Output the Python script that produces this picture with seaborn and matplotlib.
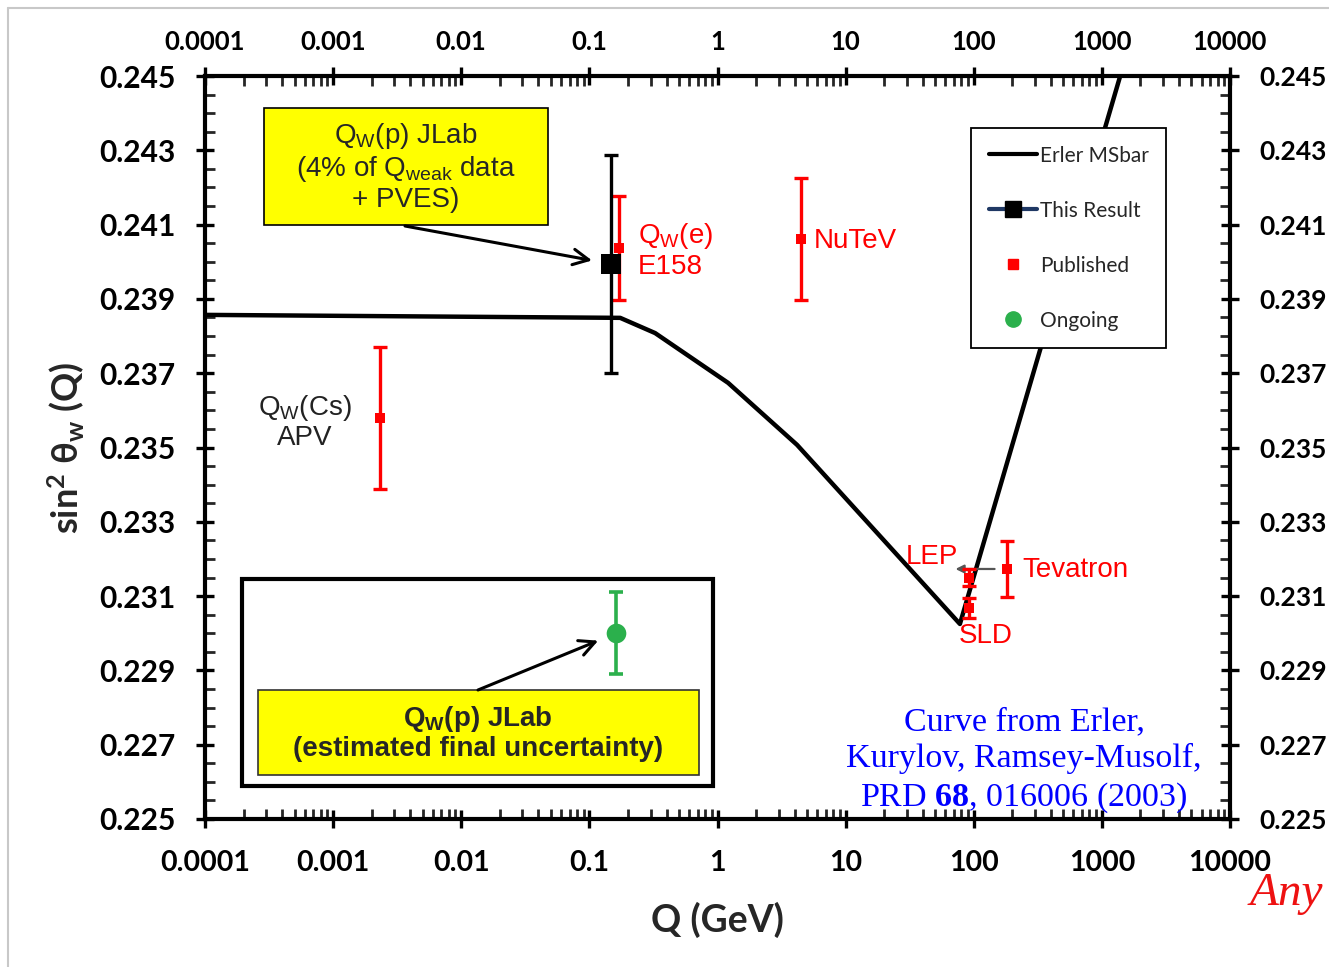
import numpy as np
import pandas as pd
import matplotlib
matplotlib.use("Agg")
import matplotlib.pyplot as plt
import matplotlib.transforms as mtransforms
import seaborn as sns
from matplotlib.ticker import FixedLocator, FixedFormatter, LogLocator, MultipleLocator, NullFormatter
from matplotlib.lines import Line2D
from matplotlib.patches import Rectangle

# ---------------- data ----------------
curve_q = [1e-4, 0.174, 0.326, 1.21, 4.18, 78.0, 1390.0]
curve_s2w = [0.23857, 0.23849, 0.23808, 0.23674, 0.23507, 0.23025, 0.2450]

this_q = [0.148]
this_s2w = [0.23994]
this_err = [0.00293]

pub_names = ["APV", "E158", "NuTeV", "LEP", "SLD", "Tevatron"]
pub_q = [0.00232, 0.171, 4.49, 91.0, 91.0, 182.0]
pub_s2w = [0.23579, 0.24037, 0.24061, 0.23150, 0.23068, 0.23173]
pub_err = [0.00191, 0.00141, 0.00164, 0.00022, 0.00026, 0.00075]

ong_q = [0.162]
ong_s2w = [0.2300]
ong_err = [0.0011]

x_ticks = [1e-4, 1e-3, 1e-2, 1e-1, 1, 10, 100, 1000, 10000]
x_tick_labels = ["0.0001", "0.001", "0.01", "0.1", "1", "10", "100", "1000", "10000"]
y_ticks = [0.225, 0.227, 0.229, 0.231, 0.233, 0.235, 0.237, 0.239, 0.241, 0.243, 0.245]
y_tick_labels = ["0.225", "0.227", "0.229", "0.231", "0.233", "0.235", "0.237", "0.239", "0.241", "0.243", "0.245"]

legend_labels = ["Erler MSbar", "This Result", "Published", "Ongoing"]

# ---------------- style ----------------
sns.set_style("white")
plt.rcParams["font.family"] = ["Liberation Sans", "DejaVu Sans"]
plt.rcParams["mathtext.fontset"] = "custom"
plt.rcParams["mathtext.rm"] = "Liberation Serif"
plt.rcParams["mathtext.bf"] = "Liberation Serif:bold"

W, H = 1329, 967
fig = plt.figure(figsize=(W / 100, H / 100), dpi=100)
fig.patch.set_facecolor("white")


def fp(x, y):
    return (x / W, 1 - y / H)


ax = fig.add_axes([205 / W, 1 - 819 / H, 1025 / W, 743 / H])
ax.set_facecolor("white")

RED = "#ff0000"
GREEN = "#2bb04c"

curve_df = pd.DataFrame({"Q": curve_q, "s2w": curve_s2w})
sns.lineplot(data=curve_df, x="Q", y="s2w", sort=False, estimator=None,
             color="black", lw=3.2, ax=ax, zorder=3)

# published
ax.errorbar(pub_q, pub_s2w, yerr=pub_err, fmt="none", ecolor=RED,
            elinewidth=2.4, capsize=5, capthick=2.4, zorder=5)
sns.scatterplot(x=pub_q, y=pub_s2w, marker="s", color=RED, s=60,
                edgecolor=RED, linewidth=0, ax=ax, zorder=6)
# this result
ax.errorbar(this_q, this_s2w, yerr=this_err, fmt="none", ecolor="black",
            elinewidth=2.4, capsize=5, capthick=2.4, zorder=5)
sns.scatterplot(x=this_q, y=this_s2w, marker="s", color="black", s=200,
                edgecolor="black", linewidth=0, ax=ax, zorder=6)
# ongoing
ax.errorbar(ong_q, ong_s2w, yerr=ong_err, fmt="none", ecolor=GREEN,
            elinewidth=2.6, capsize=5, capthick=2.6, zorder=5)
sns.scatterplot(x=ong_q, y=ong_s2w, marker="o", color=GREEN, s=200,
                edgecolor=GREEN, linewidth=0, ax=ax, zorder=6)

ax.set_xscale("log")
ax.set_xlim(1e-4, 1e4)
ax.set_ylim(0.225, 0.245)

ax.xaxis.set_major_locator(FixedLocator(x_ticks))
ax.xaxis.set_major_formatter(FixedFormatter(x_tick_labels))
ax.xaxis.set_minor_locator(LogLocator(base=10, subs=np.arange(2, 10), numticks=100))
ax.xaxis.set_minor_formatter(NullFormatter())
ax.yaxis.set_major_locator(FixedLocator(y_ticks))
ax.yaxis.set_major_formatter(FixedFormatter(y_tick_labels))
ax.yaxis.set_minor_locator(MultipleLocator(0.0005))

for s in ax.spines.values():
    s.set_visible(True)
    s.set_linewidth(3)
    s.set_color("black")

ax.tick_params(which="major", direction="inout", length=13, width=2.4,
               top=True, right=True, labeltop=True, labelright=True,
               bottom=True, left=True, colors="black")
ax.tick_params(which="minor", direction="in", length=7, width=2,
               top=True, right=True, bottom=True, left=True)
ax.tick_params(axis="x", pad=16)
ax.tick_params(axis="y", pad=15)

TICKFONT = ["Lato", "DejaVu Sans"]
for t in ax.xaxis.get_major_ticks():
    t.label1.set_fontfamily(TICKFONT); t.label1.set_fontweight("bold"); t.label1.set_fontsize(20.5)
    t.label2.set_fontfamily(TICKFONT); t.label2.set_fontweight("bold"); t.label2.set_fontsize(18.5)
for t in ax.yaxis.get_major_ticks():
    t.label1.set_fontfamily(TICKFONT); t.label1.set_fontweight("bold"); t.label1.set_fontsize(21.5)
    t.label2.set_fontfamily(TICKFONT); t.label2.set_fontweight("bold"); t.label2.set_fontsize(19)

ax.set_xlabel("Q (GeV)", fontsize=27, fontweight="bold", family=TICKFONT)
ax.set_ylabel(r"sin$\mathregular{^2}$ θ$\mathregular{_w}$ (Q)", fontsize=26,
              fontweight="bold", family=TICKFONT)
ax.xaxis.set_label_coords(0.5, -0.111)
ax.yaxis.set_label_coords(-0.115, 0.5)

# ---------------- point labels ----------------
lab_kw = dict(textcoords="offset pixels", fontsize=20, va="center")
ax.annotate("Q$\\mathregular{_W}$(e)\nE158", xy=(pub_q[1], pub_s2w[1]), xytext=(19, -2),
            color=RED, ha="left", linespacing=1.15, **lab_kw)
ax.annotate("NuTeV", xy=(pub_q[2], pub_s2w[2]), xytext=(13, -2), color=RED, ha="left", **lab_kw)
ax.annotate("Q$\\mathregular{_W}$(Cs)\nAPV", xy=(pub_q[0], pub_s2w[0]), xytext=(-75, -4),
            color="#222222", ha="center", multialignment="center", linespacing=1.1, **lab_kw)
ax.annotate("LEP", xy=(pub_q[3], pub_s2w[3]), xytext=(-10, 21), color=RED, ha="right", **lab_kw)
ax.annotate("SLD", xy=(pub_q[4], pub_s2w[4]), xytext=(17, -28), color=RED, ha="center", **lab_kw)
ax.annotate("Tevatron", xy=(pub_q[5], pub_s2w[5]), xytext=(15, -1), color=RED, ha="left", **lab_kw)
# Tevatron -> LEP arrow
ax.annotate("", xy=(72, pub_s2w[5]), xytext=(pub_q[5], pub_s2w[5]),
            arrowprops=dict(arrowstyle="-|>", color="#555555", lw=1.6,
                            shrinkA=9, shrinkB=0, mutation_scale=12), zorder=4)

# ---------------- boxes ----------------
b1 = Rectangle(fp(264, 225), 284 / W, 117 / H, transform=fig.transFigure,
               fc="#ffff00", ec="black", lw=1.2, zorder=2, clip_on=False)
ax.add_patch(b1)
fig.text(*fp(406, 167), "Q$\\mathregular{_W}$(p) JLab\n(4% of Q$\\mathregular{_{weak}}$ data\n+ PVES)",
         ha="center", va="center", multialignment="center", fontsize=20, linespacing=1.15, zorder=7)
ax.annotate("", xy=(this_q[0], this_s2w[0]), xytext=fp(405, 226),
            textcoords="figure fraction",
            arrowprops=dict(arrowstyle="->", color="black", lw=2.2, shrinkA=0,
                            shrinkB=14, mutation_scale=28), zorder=7)

b2 = Rectangle(fp(242, 786), 471 / W, 207 / H, transform=fig.transFigure,
               fc="white", ec="black", lw=3, zorder=1.5, clip_on=False)
ax.add_patch(b2)
b3 = Rectangle(fp(258, 775), 441 / W, 85 / H, transform=fig.transFigure,
               fc="#ffff00", ec="#333333", lw=1.2, zorder=2, clip_on=False)
ax.add_patch(b3)
fig.text(*fp(478, 733), "Q$\\mathregular{_W}$(p) JLab\n(estimated final uncertainty)",
         ha="center", va="center", multialignment="center", fontsize=20,
         fontweight="bold", linespacing=1.12, zorder=7)
ax.annotate("", xy=(ong_q[0], ong_s2w[0]), xytext=fp(478, 690),
            textcoords="figure fraction",
            arrowprops=dict(arrowstyle="->", color="black", lw=2.2, shrinkA=0,
                            shrinkB=14, mutation_scale=28), zorder=7)

# ---------------- reference text ----------------
fig.text(*fp(1024, 761), "Curve from Erler,\nKurylov, Ramsey-Musolf,\nPRD $\\mathbf{68}$, 016006 (2003)",
         ha="center", va="center", multialignment="center", fontsize=24.5,
         color="#0000ff", family="Liberation Serif", linespacing=1.25, zorder=8)
fig.text(*fp(1286, 905), "Any", ha="center", va="baseline", fontsize=34,
         color="#ee1111", family="Liberation Serif", style="italic")

# ---------------- legend ----------------
handles = [
    Line2D([], [], color="black", lw=3),
    Line2D([], [], color="#1f3864", lw=3, marker="s", ms=11, mfc="black", mec="black"),
    Line2D([], [], color=RED, lw=0, marker="s", ms=7),
    Line2D([], [], color=GREEN, lw=0, marker="o", ms=11),
]
leg = ax.legend(handles, legend_labels, loc="upper left", bbox_to_anchor=fp(971, 128),
                bbox_transform=fig.transFigure, frameon=True, fancybox=False,
                edgecolor="black", framealpha=1, labelspacing=1.68,
                handlelength=2.3, handletextpad=0.15, borderpad=0.85, borderaxespad=0,
                prop={"family": ["Lato", "DejaVu Sans"], "size": 15})
leg.get_frame().set_linewidth(1.3)
leg.set_zorder(9)

# outer light frame
fig.add_artist(Line2D([8 / W, 8 / W], [0, 1 - 8 / H], color="#c8c8c8", lw=1.5,
                      transform=fig.transFigure))
fig.add_artist(Line2D([8 / W, 1], [1 - 8 / H, 1 - 8 / H], color="#c8c8c8", lw=1.5,
                      transform=fig.transFigure))

# top tick labels sit closer to the axis than the bottom ones
shift = mtransforms.ScaledTranslation(0, -7 / 72, fig.dpi_scale_trans)
for t in ax.xaxis.get_major_ticks():
    t.label2.set_transform(t.label2.get_transform() + shift)

fig.savefig("out.png", dpi=100, facecolor="white")
